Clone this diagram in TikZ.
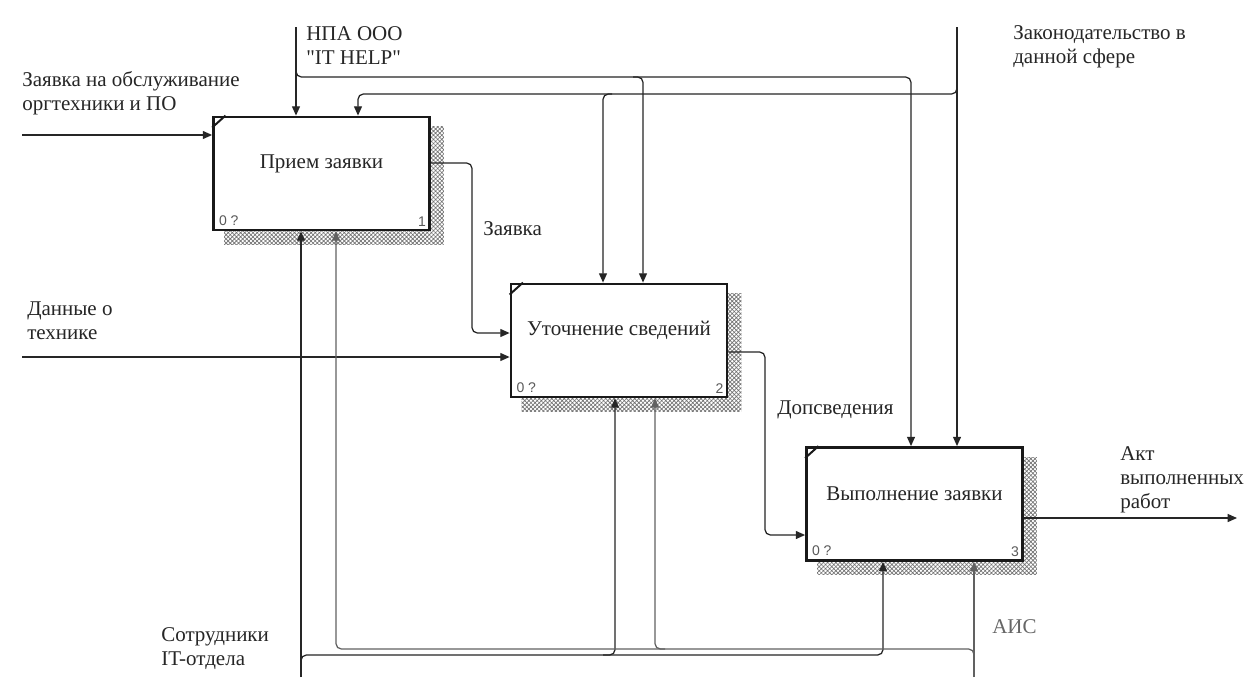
\documentclass[tikz,border=0pt]{standalone}
\usepackage{fontspec}
\setmainfont{Liberation Serif}
\newfontfamily\straightserif{Liberation Serif}[Ligatures=TeXOff]
\newfontfamily\tagfont{Liberation Sans}
\usetikzlibrary{arrows.meta,patterns.meta}
\pgfdeclarelayer{shade}
\pgfsetlayers{shade,main}
\begin{document}
\begin{tikzpicture}[x=0.75pt,y=-0.75pt,
  txt/.style={font=\fontsize{15.75}{18}\selectfont, text=black!85, inner sep=0pt, align=left},
  fnbox/.style={draw=black!90, line width=2.1pt, fill=white, minimum width=162pt, minimum height=84.75pt, inner sep=0pt},
  fntitle/.style={font=\fontsize{15.75}{18}\selectfont, text=black!85, inner sep=0pt},
  tag/.style={font=\tagfont\fontsize{10.5}{12}\selectfont, text=black!65, inner sep=0pt},
  tip/.style={-{Triangle[length=7pt,width=6pt]}},
  link/.style={draw=black!85, line width=0.95pt},
  glink/.style={draw=black!62, line width=0.95pt},
  rbend/.style={rounded corners=4pt},
  hatch/.style={pattern={Hatch[distance=2.2pt,angle=45,line width=0.5pt]}, pattern color=black!55},
]
\useasboundingbox (0,0) rectangle (1259,689);

% activity boxes
\node[fnbox] (b1) at (321.5,173.5) {};
\node[fnbox] (b2) at (619,340.5) {};
\node[fnbox] (b3) at (914.5,504) {};

% white sheet and hatched shadows behind the boxes
\begin{pgfonlayer}{shade}
  \fill[white] (0,0) rectangle (1259,689);
  \foreach \b in {b1,b2,b3}
    \fill[hatch] ([xshift=9pt,yshift=-8.5pt]\b.north west) rectangle ([xshift=9.75pt,yshift=-9.75pt]\b.south east);
\end{pgfonlayer}

% corner ticks
\foreach \b in {b1,b2,b3}
  \draw[black!90, line width=1.5pt] ([yshift=-9pt]\b.north west) -- ([xshift=10pt]\b.north west);

% titles and tags
\node[fntitle] (t1) at ([yshift=7.5pt]b1.center) {Прием заявки};
\node[fntitle] (t2) at ([yshift=7.5pt]b2.center) {Уточнение сведений};
\node[fntitle] (t3) at ([yshift=7.5pt]b3.center) {Выполнение заявки};
\foreach \b/\n in {b1/1,b2/2,b3/3}{
  \node[tag, anchor=base west] (\b q) at ([xshift=5pt,yshift=4.5pt]\b.south west) {0 ?};
  \node[tag, anchor=base east] (\b n) at ([xshift=-3.5pt,yshift=4pt]\b.south east) {\n};
}

% free ends and bend points
\coordinate (in1) at (22,135);
\coordinate (in2) at (22,357);
\coordinate (npa) at (296,27);
\coordinate (law) at (957,27);
\coordinate (staff) at (301,677);
\coordinate (ais) at (974,677);
\coordinate (o1) at (472,163);
\coordinate (o1b) at (472,333);
\coordinate (o2) at (765,352);
\coordinate (o2b) at (765,535);
\coordinate (out) at (1237,518);
\coordinate (npa3) at (911,77);
\coordinate (npa2) at (643,77);
\coordinate (law1) at (358,94);
\coordinate (law2) at (603,94);
\coordinate (st3) at (883,655);
\coordinate (st2) at (615,655);
\coordinate (ai1) at (336,649);
\coordinate (ai2) at (655,649);

% inputs
\draw[link, tip] (in1) -- (b1.west |- in1);
\draw[link, tip] (in2) -- (b2.west |- in2);
\draw[link, tip, rbend] (b1.east |- o1) -- (o1) -- (o1b) -- (b2.west |- o1b);
\draw[link, tip, rbend] (b2.east |- o2) -- (o2) -- (o2b) -- (b3.west |- o2b);
% output
\draw[link, tip] (b3.east |- out) -- (out);

% controls
\draw[link, tip] (npa) -- (npa |- b1.north);
\draw[link, tip, rbend] (296,66) -- (296,77) -- (npa3) -- (npa3 |- b3.north);
\draw[link, tip, rbend] (633,77) -- (npa2) -- (npa2 |- b2.north);
\draw[link, tip] (law) -- (law |- b3.north);
\draw[link, tip, rbend] (957,84) -- (957,94) -- (law1) -- (law1 |- b1.north);
\draw[link, tip, rbend] (612,94) -- (law2) -- (law2 |- b2.north);

% mechanisms
\draw[link, tip] (staff) -- (staff |- b1.south);
\draw[link, tip, rbend] (301,665) -- (301,655) -- (st3) -- (st3 |- b3.south);
\draw[link, tip, rbend] (603,655) -- (st2) -- (st2 |- b2.south);
\draw[glink, tip] (ais) -- (ais |- b3.south);
\draw[glink, tip, rbend] (974,659) -- (974,649) -- (ai1) -- (ai1 |- b1.south);
\draw[glink, tip, rbend] (665,649) -- (ai2) -- (ai2 |- b2.south);

% arrow labels
\node[txt, anchor=north west] (lnpa) at (306,26) {НПА ООО\\{\straightserif "IT HELP"}};
\node[txt, anchor=north west] (llaw) at (1013,25) {Законодательство в\\данной сфере};
\node[txt, anchor=north west] (lin1) at (22,71) {Заявка на обслуживание\\оргтехники и ПО};
\node[txt, anchor=north west] (lin2) at (27,301) {Данные о\\технике};
\node[txt, anchor=north west] (lo1) at (483,221) {Заявка};
\node[txt, anchor=north west] (lo2) at (777,400) {Допсведения};
\node[txt, anchor=north west] (lout) at (1120,446) {Акт\\выполненных\\работ};
\node[txt, anchor=north west] (lst) at (161,627) {Сотрудники\\IT-отдела};
\node[txt, anchor=north west, text=black!60] (lais) at (992,619) {АИС};
\end{tikzpicture}
\end{document}
